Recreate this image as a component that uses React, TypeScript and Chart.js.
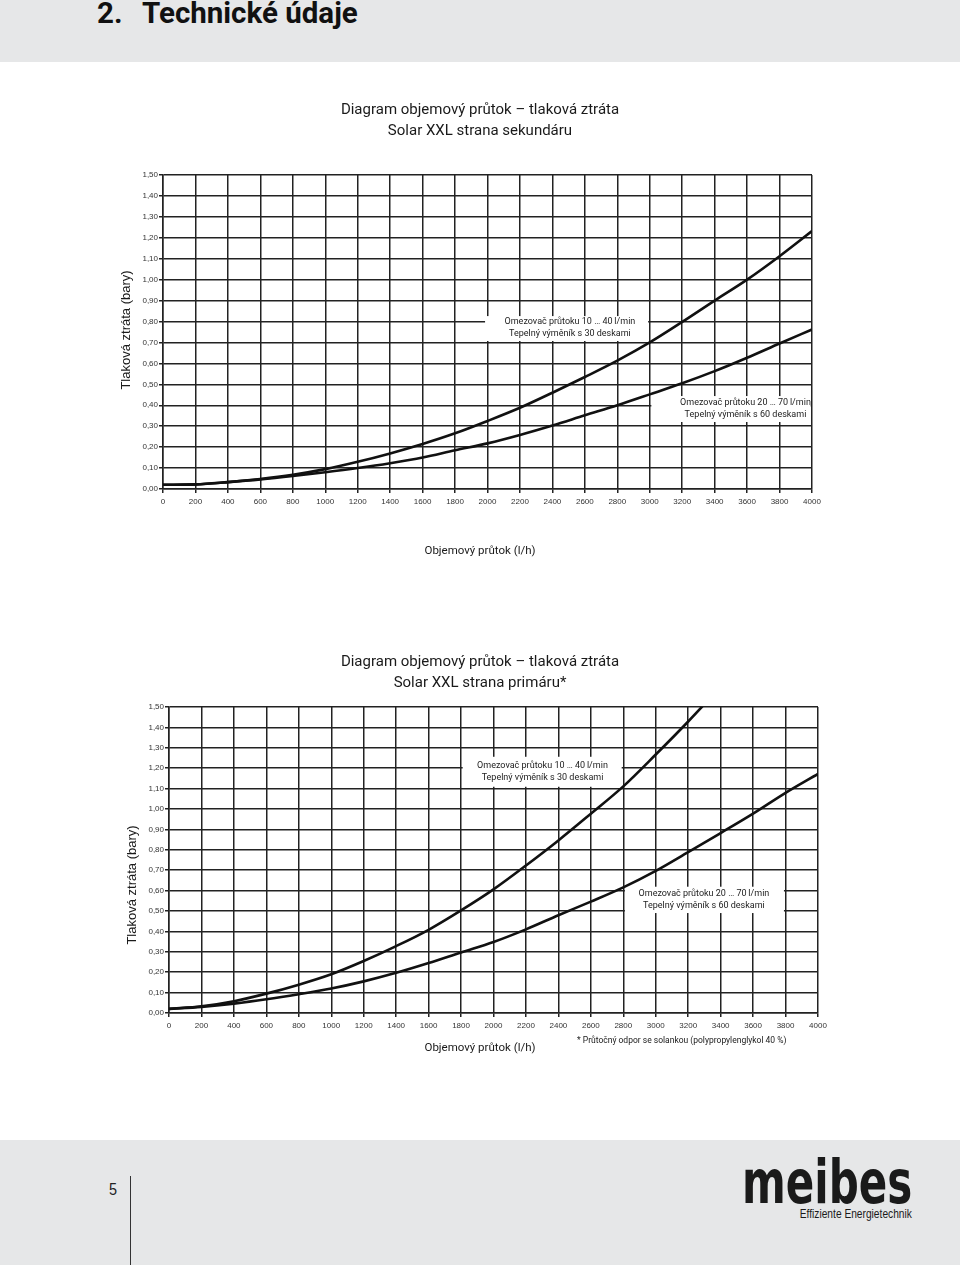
import React, { useEffect, useRef } from "react";
import { Chart, registerables } from "chart.js";

Chart.register(...registerables);

// ---------- data ----------
const flowTicks = [0, 200, 400, 600, 800, 1000, 1200, 1400, 1600, 1800, 2000, 2200, 2400, 2600, 2800, 3000, 3200, 3400, 3600, 3800, 4000];
const lossTicks = [0, 0.1, 0.2, 0.3, 0.4, 0.5, 0.6, 0.7, 0.8, 0.9, 1.0, 1.1, 1.2, 1.3, 1.4, 1.5];

// Secondary side (Solar XXL strana sekundáru)
const secFlow = [0, 200, 400, 600, 800, 1000, 1200, 1400, 1600, 1800, 2000, 2200, 2400, 2600, 2800, 3000, 3200, 3400, 3600, 3800, 4000];
const secLoss30 = [0.02, 0.022, 0.033, 0.048, 0.068, 0.095, 0.13, 0.17, 0.215, 0.266, 0.325, 0.388, 0.46, 0.535, 0.613, 0.7, 0.798, 0.9, 1.0, 1.112, 1.232];
const secLoss60 = [0.02, 0.022, 0.033, 0.046, 0.062, 0.08, 0.1, 0.123, 0.15, 0.185, 0.218, 0.258, 0.303, 0.352, 0.4, 0.452, 0.505, 0.563, 0.627, 0.695, 0.762];

// Primary side (Solar XXL strana primáru)
const primFlow30 = [0, 200, 400, 600, 800, 1000, 1200, 1400, 1600, 1800, 2000, 2200, 2400, 2600, 2800, 3000, 3200, 3400];
const primLoss30 = [0.02, 0.033, 0.058, 0.095, 0.139, 0.19, 0.255, 0.328, 0.408, 0.503, 0.606, 0.723, 0.846, 0.977, 1.111, 1.267, 1.429, 1.6];
const primFlow60 = [0, 200, 400, 600, 800, 1000, 1200, 1400, 1600, 1800, 2000, 2200, 2400, 2600, 2800, 3000, 3200, 3400, 3600, 3800, 4000];
const primLoss60 = [0.02, 0.03, 0.046, 0.067, 0.092, 0.12, 0.155, 0.197, 0.245, 0.297, 0.348, 0.41, 0.479, 0.546, 0.616, 0.697, 0.789, 0.882, 0.977, 1.079, 1.172];

const secTitle = ["Diagram objemový průtok – tlaková ztráta", "Solar XXL strana sekundáru"];
const primTitle = ["Diagram objemový průtok – tlaková ztráta", "Solar XXL strana primáru*"];
const yTitle = "Tlaková ztráta (bary)";
const xTitle = "Objemový průtok (l/h)";
const footnote = "* Průtočný odpor se solankou (polypropylenglykol 40 %)";
const label30 = ["Omezovač průtoku 10 … 40\u2009l/min", "Tepelný výměník s 30 deskami"];
const label60 = ["Omezovač průtoku 20 … 70\u2009l/min", "Tepelný výměník s 60 deskami"];

// ---------- chart configs (layout/style) ----------
type Box = { x1: number; x2: number; y1: number; y2: number; tx: number; ty: number; lines: string[] };
type Cfg = {
  left: number; top: number; w: number; h: number;
  leftW: number; rightW: number; xH: number; titlePad: { top: number; bottom: number };
  title: string[];
  yTitlePos: [number, number]; xTitlePos: [number, number];
  note?: { text: string; x: number; y: number };
  boxes: Box[];
  series: { flow: number[]; loss: number[] }[];
};

const SEC: Cfg = {
  left: 100, top: 90, w: 760, h: 480,
  leftW: 63, rightW: 48, xH: 81, titlePad: { top: 9.5, bottom: 33.5 },
  title: secTitle,
  yTitlePos: [26, 240], xTitlePos: [380, 461],
  boxes: [
    { x1: 1985, x2: 2990, y1: 0.826, y2: 0.707, tx: 2508, ty: 0.772, lines: label30 },
    { x1: 3010, x2: 3992, y1: 0.444, y2: 0.32, tx: 3590, ty: 0.382, lines: label60 },
  ],
  series: [
    { flow: secFlow, loss: secLoss30 },
    { flow: secFlow, loss: secLoss60 },
  ],
};

const PRIM: Cfg = {
  left: 100, top: 640, w: 760, h: 440,
  leftW: 69, rightW: 42, xH: 67, titlePad: { top: 11.5, bottom: 13.5 },
  title: primTitle,
  yTitlePos: [32, 245], xTitlePos: [380, 408],
  note: { text: footnote, x: 477, y: 401 },
  boxes: [
    { x1: 1810, x2: 2790, y1: 1.256, y2: 1.109, tx: 2302, ty: 1.183, lines: label30 },
    { x1: 2810, x2: 3790, y1: 0.619, y2: 0.49, tx: 3297, ty: 0.556, lines: label60 },
  ],
  series: [
    { flow: primFlow30, loss: primLoss30 },
    { flow: primFlow60, loss: primLoss60 },
  ],
};

const GRID = "#222222";
const TICK_FONT = "'Liberation Sans Narrow', 'Liberation Sans', Arial, sans-serif";
const DIN_FONT = "Roboto, 'Noto Sans', sans-serif";

function makeTextPlugin(cfg: Cfg) {
  return {
    id: "pageText",
    beforeDatasetsDraw(chart: any) {
      const { ctx } = chart;
      const x = chart.scales.x;
      const y = chart.scales.y;
      for (const b of cfg.boxes) {
        const x1 = x.getPixelForValue(b.x1);
        const x2 = x.getPixelForValue(b.x2);
        const y1 = y.getPixelForValue(b.y1);
        const y2 = y.getPixelForValue(b.y2);
        ctx.save();
        ctx.fillStyle = "#ffffff";
        ctx.fillRect(x1, y1, x2 - x1, y2 - y1);
        ctx.fillStyle = "#222222";
        ctx.font = `9px ${DIN_FONT}`;
        ctx.textAlign = "center";
        ctx.textBaseline = "middle";
        const cx = x.getPixelForValue(b.tx);
        const cy = y.getPixelForValue(b.ty);
        const n = b.lines.length;
        b.lines.forEach((l, i) => ctx.fillText(l, cx, cy + (i - (n - 1) / 2) * 12));
        ctx.restore();
      }
    },
    afterDraw(chart: any) {
      const { ctx } = chart;
      ctx.save();
      ctx.fillStyle = "#1a1a1a";
      ctx.textAlign = "center";
      ctx.textBaseline = "middle";
      ctx.font = `13px 'Liberation Sans', Arial, sans-serif`;
      ctx.translate(cfg.yTitlePos[0], cfg.yTitlePos[1]);
      ctx.rotate(-Math.PI / 2);
      ctx.fillText(yTitle, 0, 0);
      ctx.restore();

      ctx.save();
      ctx.fillStyle = "#1a1a1a";
      ctx.textAlign = "center";
      ctx.textBaseline = "middle";
      ctx.font = `11.5px ${DIN_FONT}`;
      ctx.fillText(xTitle, cfg.xTitlePos[0], cfg.xTitlePos[1]);
      if (cfg.note) {
        ctx.textAlign = "left";
        ctx.font = `8.5px ${DIN_FONT}`;
        ctx.fillText(cfg.note.text, cfg.note.x, cfg.note.y);
      }
      ctx.restore();
    },
  };
}

function PressureChart({ cfg }: { cfg: Cfg }) {
  const ref = useRef<HTMLCanvasElement>(null);
  useEffect(() => {
    const canvas = ref.current;
    if (!canvas) return;
    const chart = new Chart(canvas, {
      type: "line",
      data: {
        datasets: cfg.series.map((s) => ({
          data: s.flow.map((f, i) => ({ x: f, y: s.loss[i] })),
          borderColor: "#111111",
          borderWidth: 2.6,
          pointRadius: 0,
          fill: false,
          cubicInterpolationMode: "monotone" as const,
        })),
      },
      options: {
        animation: false,
        responsive: false,
        devicePixelRatio: 1,
        events: [],
        layout: { padding: 0 },
        plugins: {
          legend: { display: false },
          tooltip: { enabled: false },
          title: {
            display: true,
            text: cfg.title,
            color: "#1a1a1a",
            font: { family: DIN_FONT, size: 15, weight: "normal", lineHeight: 1.4 },
            padding: cfg.titlePad,
          },
        },
        scales: {
          x: {
            type: "linear",
            min: 0,
            max: 4000,
            afterBuildTicks: (s: any) => {
              s.ticks = flowTicks.map((v) => ({ value: v }));
            },
            afterFit: (s: any) => {
              s.height = cfg.xH;
            },
            grid: { color: GRID, lineWidth: 1.5, drawTicks: true, tickLength: 4, tickColor: GRID },
            border: { display: true, color: GRID, width: 1.5 },
            ticks: {
              autoSkip: false,
              maxRotation: 0,
              padding: 3.5,
              color: "#333333",
              font: { family: TICK_FONT, size: 8 },
              callback: (v: any) => String(v),
            },
          },
          y: {
            type: "linear",
            position: "left",
            min: 0,
            max: 1.5,
            afterBuildTicks: (s: any) => {
              s.ticks = lossTicks.map((v) => ({ value: v }));
            },
            afterFit: (s: any) => {
              s.width = cfg.leftW;
            },
            grid: { color: GRID, lineWidth: 1.5, drawTicks: true, tickLength: 4, tickColor: GRID },
            border: { display: true, color: GRID, width: 1.5 },
            ticks: {
              padding: 1,
              color: "#333333",
              font: { family: TICK_FONT, size: 8 },
              callback: (v: any) => Number(v).toFixed(2).replace(".", ","),
            },
          },
          spacer: {
            type: "linear",
            position: "right",
            display: true,
            min: 0,
            max: 1,
            grid: { display: false, drawTicks: false },
            border: { display: false },
            ticks: { display: false },
            afterFit: (s: any) => {
              s.width = cfg.rightW;
            },
          },
        },
      },
      plugins: [makeTextPlugin(cfg)],
    } as any);
    return () => chart.destroy();
  }, [cfg]);
  return (
    <canvas
      ref={ref}
      width={cfg.w}
      height={cfg.h}
      style={{ position: "absolute", left: cfg.left, top: cfg.top, width: cfg.w, height: cfg.h }}
    />
  );
}

export default function App() {
  const band = "#e6e7e8";
  return (
    <div style={{ position: "absolute", left: 0, top: 0, width: 960, height: 1265, background: "#ffffff", overflow: "hidden" }}>
      <div style={{ position: "absolute", left: 0, top: 0, width: 960, height: 62, background: band }} />
      <div style={{ position: "absolute", left: 97, top: -1.5, fontFamily: "Roboto, sans-serif", fontWeight: 700, fontSize: 29.5, lineHeight: "29.5px", color: "#111", whiteSpace: "nowrap" }}>2.</div>
      <div style={{ position: "absolute", left: 142, top: -1.5, fontFamily: "Roboto, sans-serif", fontWeight: 700, fontSize: 29.5, lineHeight: "29.5px", color: "#111", whiteSpace: "nowrap" }}>Technické údaje</div>

      <PressureChart cfg={SEC} />
      <PressureChart cfg={PRIM} />

      <div style={{ position: "absolute", left: 0, top: 1140, width: 960, height: 125, background: band }} />
      <div style={{ position: "absolute", left: 109, top: 1180, fontFamily: "'Liberation Sans', Arial, sans-serif", fontSize: 17, lineHeight: "20px", color: "#222", transform: "scaleX(0.85)", transformOrigin: "left top" }}>5</div>
      <div style={{ position: "absolute", left: 130, top: 1176, width: 1, height: 89, background: "#333" }} />
      <div style={{ position: "absolute", left: 742, top: 1152, fontFamily: "'DejaVu Sans', sans-serif", fontWeight: 700, fontSize: 60, lineHeight: "60px", color: "#1a1a1a", whiteSpace: "nowrap", transform: "scaleX(0.7)", transformOrigin: "left top" }}>meibes</div>
      <div style={{ position: "absolute", right: 48, top: 1206, fontFamily: "'Liberation Sans', Arial, sans-serif", fontSize: 12, lineHeight: "16px", color: "#1a1a1a", whiteSpace: "nowrap", transform: "scaleX(0.85)", transformOrigin: "right top" }}>Effiziente Energietechnik</div>
    </div>
  );
}
